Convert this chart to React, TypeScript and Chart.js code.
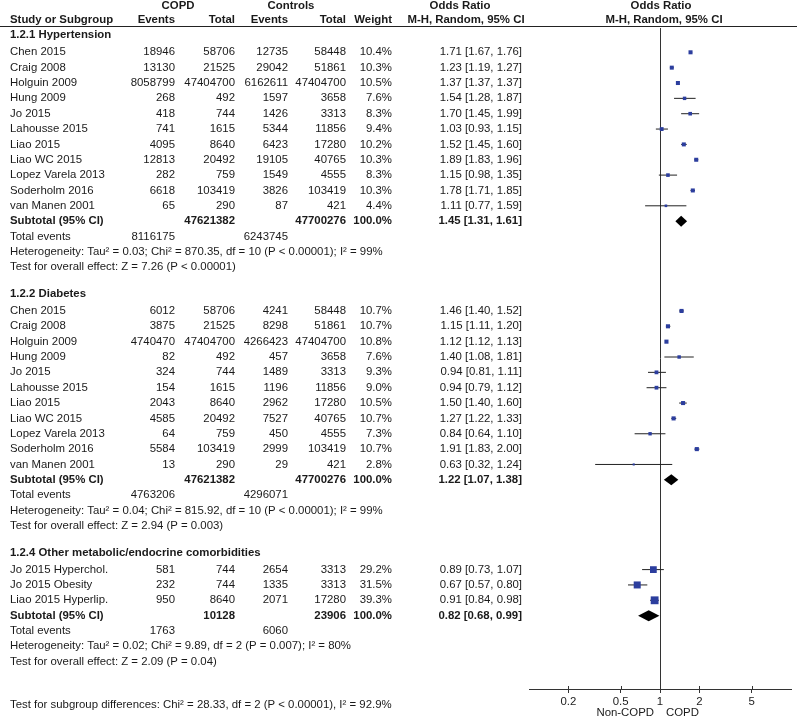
import { useEffect, useRef } from 'react';
import { Chart, registerables } from 'chart.js';

Chart.register(...registerables);

const FONT = "'Liberation Sans', Arial, Helvetica, sans-serif";
const FONT_SIZE = 11.4;

// ---------- Data ----------
const HT_TITLE = '1.2.1 Hypertension';
const HT_NAMES = ['Chen 2015', 'Craig 2008', 'Holguin 2009', 'Hung 2009', 'Jo 2015', 'Lahousse 2015', 'Liao 2015', 'Liao WC 2015', 'Lopez Varela 2013', 'Soderholm 2016', 'van Manen 2001'];
const HT_COPD_EV = [18946, 13130, 8058799, 268, 418, 741, 4095, 12813, 282, 6618, 65];
const HT_COPD_TOT = [58706, 21525, 47404700, 492, 744, 1615, 8640, 20492, 759, 103419, 290];
const HT_CTRL_EV = [12735, 29042, 6162611, 1597, 1426, 5344, 6423, 19105, 1549, 3826, 87];
const HT_CTRL_TOT = [58448, 51861, 47404700, 3658, 3313, 11856, 17280, 40765, 4555, 103419, 421];
const HT_WEIGHT = [10.4, 10.3, 10.5, 7.6, 8.3, 9.4, 10.2, 10.3, 8.3, 10.3, 4.4];
const HT_OR = [1.71, 1.23, 1.37, 1.54, 1.70, 1.03, 1.52, 1.89, 1.15, 1.78, 1.11];
const HT_LO = [1.67, 1.19, 1.37, 1.28, 1.45, 0.93, 1.45, 1.83, 0.98, 1.71, 0.77];
const HT_HI = [1.76, 1.27, 1.37, 1.87, 1.99, 1.15, 1.60, 1.96, 1.35, 1.85, 1.59];
const HT_SUB = { copdTot: 47621382, ctrlTot: 47700276, or: 1.45, lo: 1.31, hi: 1.61, copdEv: 8116175, ctrlEv: 6243745 };
const HT_HET = 'Heterogeneity: Tau² = 0.03; Chi² = 870.35, df = 10 (P < 0.00001); I² = 99%';
const HT_TEST = 'Test for overall effect: Z = 7.26 (P < 0.00001)';

const DM_TITLE = '1.2.2 Diabetes';
const DM_NAMES = ['Chen 2015', 'Craig 2008', 'Holguin 2009', 'Hung 2009', 'Jo 2015', 'Lahousse 2015', 'Liao 2015', 'Liao WC 2015', 'Lopez Varela 2013', 'Soderholm 2016', 'van Manen 2001'];
const DM_COPD_EV = [6012, 3875, 4740470, 82, 324, 154, 2043, 4585, 64, 5584, 13];
const DM_COPD_TOT = [58706, 21525, 47404700, 492, 744, 1615, 8640, 20492, 759, 103419, 290];
const DM_CTRL_EV = [4241, 8298, 4266423, 457, 1489, 1196, 2962, 7527, 450, 2999, 29];
const DM_CTRL_TOT = [58448, 51861, 47404700, 3658, 3313, 11856, 17280, 40765, 4555, 103419, 421];
const DM_WEIGHT = [10.7, 10.7, 10.8, 7.6, 9.3, 9.0, 10.5, 10.7, 7.3, 10.7, 2.8];
const DM_OR = [1.46, 1.15, 1.12, 1.40, 0.94, 0.94, 1.50, 1.27, 0.84, 1.91, 0.63];
const DM_LO = [1.40, 1.11, 1.12, 1.08, 0.81, 0.79, 1.40, 1.22, 0.64, 1.83, 0.32];
const DM_HI = [1.52, 1.20, 1.13, 1.81, 1.11, 1.12, 1.60, 1.33, 1.10, 2.00, 1.24];
const DM_SUB = { copdTot: 47621382, ctrlTot: 47700276, or: 1.22, lo: 1.07, hi: 1.38, copdEv: 4763206, ctrlEv: 4296071 };
const DM_HET = 'Heterogeneity: Tau² = 0.04; Chi² = 815.92, df = 10 (P < 0.00001); I² = 99%';
const DM_TEST = 'Test for overall effect: Z = 2.94 (P = 0.003)';

const OT_TITLE = '1.2.4 Other metabolic/endocrine comorbidities';
const OT_NAMES = ['Jo 2015 Hyperchol.', 'Jo 2015 Obesity', 'Liao 2015 Hyperlip.'];
const OT_COPD_EV = [581, 232, 950];
const OT_COPD_TOT = [744, 744, 8640];
const OT_CTRL_EV = [2654, 1335, 2071];
const OT_CTRL_TOT = [3313, 3313, 17280];
const OT_WEIGHT = [29.2, 31.5, 39.3];
const OT_OR = [0.89, 0.67, 0.91];
const OT_LO = [0.73, 0.57, 0.84];
const OT_HI = [1.07, 0.80, 0.98];
const OT_SUB = { copdTot: 10128, ctrlTot: 23906, or: 0.82, lo: 0.68, hi: 0.99, copdEv: 1763, ctrlEv: 6060 };
const OT_HET = 'Heterogeneity: Tau² = 0.02; Chi² = 9.89, df = 2 (P = 0.007); I² = 80%';
const OT_TEST = 'Test for overall effect: Z = 2.09 (P = 0.04)';

const SUBGROUP_DIFF = 'Test for subgroup differences: Chi² = 28.33, df = 2 (P < 0.00001), I² = 92.9%';
const X_TICKS = [0.2, 0.5, 1, 2, 5];
const X_LEFT_LABEL = 'Non-COPD';
const X_RIGHT_LABEL = 'COPD';

// ---------- Layout ----------
const ROW0_PX = 52;
const ROW_PX = 15.35;
const TOP_PX = 28;
const AXIS_PX = 689;
const CANVAS_W = 800;
const CANVAS_H = 727;

const groupsRaw = [
  { title: HT_TITLE, names: HT_NAMES, ce: HT_COPD_EV, ct: HT_COPD_TOT, ke: HT_CTRL_EV, kt: HT_CTRL_TOT, w: HT_WEIGHT, or: HT_OR, lo: HT_LO, hi: HT_HI, sub: HT_SUB, het: HT_HET, test: HT_TEST },
  { title: DM_TITLE, names: DM_NAMES, ce: DM_COPD_EV, ct: DM_COPD_TOT, ke: DM_CTRL_EV, kt: DM_CTRL_TOT, w: DM_WEIGHT, or: DM_OR, lo: DM_LO, hi: DM_HI, sub: DM_SUB, het: DM_HET, test: DM_TEST },
  { title: OT_TITLE, names: OT_NAMES, ce: OT_COPD_EV, ct: OT_COPD_TOT, ke: OT_CTRL_EV, kt: OT_CTRL_TOT, w: OT_WEIGHT, or: OT_OR, lo: OT_LO, hi: OT_HI, sub: OT_SUB, het: OT_HET, test: OT_TEST },
];

// assign row positions
const groups = (() => {
  let h = -1.1;
  return groupsRaw.map((g) => {
    const studyRows = g.names.map((_, i) => h + 1.12 + i);
    const subRow = h + 1.12 + g.names.length;
    const res = { ...g, headRow: h, studyRows, subRow, totRow: subRow + 1, hetRow: subRow + 2, testRow: subRow + 3 };
    h = subRow + 3 + 1.73;
    return res;
  });
})();

const HEAD1_ROW = -3.0;
const HEAD2_ROW = -2.08;
const HEAD_LINE_ROW = -1.69;
const DIFF_ROW = 42.54;
const XLABEL_ROW = 43.06;

const COL = { name: 10, ce: 175, ct: 235, ke: 288, kt: 346, w: 392, or: 522 };

const fmtCI = (o: number, l: number, h: number) => `${o.toFixed(2)} [${l.toFixed(2)}, ${h.toFixed(2)}]`;

function txt(ctx: CanvasRenderingContext2D, s: string, x: number, y: number, align: CanvasTextAlign, bold = false) {
  ctx.font = `${bold ? 'bold ' : ''}${FONT_SIZE}px ${FONT}`;
  ctx.textAlign = align;
  ctx.textBaseline = 'middle';
  ctx.fillStyle = '#1a1a1a';
  ctx.fillText(s, x, y);
}

const tablePlugin = {
  id: 'forestTable',
  beforeDatasetsDraw(chart: any) {
    const { ctx, scales, chartArea } = chart;
    const xs = scales.x;
    ctx.save();
    const x1 = Math.round(xs.getPixelForValue(1)) + 0.5;
    ctx.strokeStyle = '#333';
    ctx.lineWidth = 1;
    ctx.beginPath();
    ctx.moveTo(x1, chartArea.top);
    ctx.lineTo(x1, chartArea.bottom);
    ctx.stroke();
    X_TICKS.forEach((v) => {
      const px = Math.round(xs.getPixelForValue(v)) + 0.5;
      ctx.beginPath();
      ctx.moveTo(px, chartArea.bottom - 3);
      ctx.lineTo(px, chartArea.bottom);
      ctx.stroke();
    });
    ctx.restore();
  },
  afterDatasetsDraw(chart: any) {
    const { ctx, scales } = chart;
    const xs = scales.x;
    const ys = scales.y;
    const Y = (r: number) => ys.getPixelForValue(r);
    ctx.save();

    txt(ctx, 'COPD', 178, Y(HEAD1_ROW), 'center', true);
    txt(ctx, 'Controls', 291, Y(HEAD1_ROW), 'center', true);
    txt(ctx, 'Odds Ratio', 460, Y(HEAD1_ROW), 'center', true);
    txt(ctx, 'Odds Ratio', 661, Y(HEAD1_ROW), 'center', true);
    txt(ctx, 'Study or Subgroup', COL.name, Y(HEAD2_ROW), 'left', true);
    txt(ctx, 'Events', COL.ce, Y(HEAD2_ROW), 'right', true);
    txt(ctx, 'Total', COL.ct, Y(HEAD2_ROW), 'right', true);
    txt(ctx, 'Events', COL.ke, Y(HEAD2_ROW), 'right', true);
    txt(ctx, 'Total', COL.kt, Y(HEAD2_ROW), 'right', true);
    txt(ctx, 'Weight', COL.w, Y(HEAD2_ROW), 'right', true);
    txt(ctx, 'M-H, Random, 95% CI', 466, Y(HEAD2_ROW), 'center', true);
    txt(ctx, 'M-H, Random, 95% CI', 664, Y(HEAD2_ROW), 'center', true);

    const ly = Math.round(Y(HEAD_LINE_ROW)) + 0.5;
    ctx.strokeStyle = '#222';
    ctx.lineWidth = 1.2;
    ctx.beginPath();
    ctx.moveTo(0, ly);
    ctx.lineTo(797, ly);
    ctx.stroke();

    groups.forEach((g) => {
      txt(ctx, g.title, COL.name, Y(g.headRow), 'left', true);
      g.names.forEach((n, i) => {
        const y = Y(g.studyRows[i]);
        txt(ctx, n, COL.name, y, 'left');
        txt(ctx, String(g.ce[i]), COL.ce, y, 'right');
        txt(ctx, String(g.ct[i]), COL.ct, y, 'right');
        txt(ctx, String(g.ke[i]), COL.ke, y, 'right');
        txt(ctx, String(g.kt[i]), COL.kt, y, 'right');
        txt(ctx, `${g.w[i].toFixed(1)}%`, COL.w, y, 'right');
        txt(ctx, fmtCI(g.or[i], g.lo[i], g.hi[i]), COL.or, y, 'right');
      });
      const sy = Y(g.subRow);
      txt(ctx, 'Subtotal (95% CI)', COL.name, sy, 'left', true);
      txt(ctx, String(g.sub.copdTot), COL.ct, sy, 'right', true);
      txt(ctx, String(g.sub.ctrlTot), COL.kt, sy, 'right', true);
      txt(ctx, '100.0%', COL.w, sy, 'right', true);
      txt(ctx, fmtCI(g.sub.or, g.sub.lo, g.sub.hi), COL.or, sy, 'right', true);
      const ty = Y(g.totRow);
      txt(ctx, 'Total events', COL.name, ty, 'left');
      txt(ctx, String(g.sub.copdEv), COL.ce, ty, 'right');
      txt(ctx, String(g.sub.ctrlEv), COL.ke, ty, 'right');
      txt(ctx, g.het, COL.name, Y(g.hetRow), 'left');
      txt(ctx, g.test, COL.name, Y(g.testRow), 'left');

      const xl = xs.getPixelForValue(g.sub.lo);
      const xm = xs.getPixelForValue(g.sub.or);
      const xr = xs.getPixelForValue(g.sub.hi);
      ctx.fillStyle = '#000';
      ctx.beginPath();
      ctx.moveTo(xl, sy);
      ctx.lineTo(xm, sy - 5.5);
      ctx.lineTo(xr, sy);
      ctx.lineTo(xm, sy + 5.5);
      ctx.closePath();
      ctx.fill();
    });

    txt(ctx, SUBGROUP_DIFF, COL.name, Y(DIFF_ROW), 'left');
    const x1 = xs.getPixelForValue(1);
    txt(ctx, X_LEFT_LABEL, x1 - 6, Y(XLABEL_ROW), 'right');
    txt(ctx, X_RIGHT_LABEL, x1 + 6, Y(XLABEL_ROW), 'left');
    ctx.restore();
  },
};

export default function App() {
  const ref = useRef<HTMLCanvasElement>(null);

  useEffect(() => {
    if (!ref.current) return;
    const yMin = (TOP_PX - ROW0_PX) / ROW_PX;
    const yMax = (AXIS_PX - ROW0_PX) / ROW_PX;

    const ciDatasets: any[] = [];
    const squares: any[] = [];
    const radii: number[] = [];
    groups.forEach((g) => {
      g.names.forEach((_, i) => {
        ciDatasets.push({
          type: 'line',
          data: [{ x: g.lo[i], y: g.studyRows[i] }, { x: g.hi[i], y: g.studyRows[i] }],
          borderColor: '#222',
          borderWidth: 1,
          pointRadius: 0,
          fill: false,
          order: 2,
        });
        squares.push({ x: g.or[i], y: g.studyRows[i] });
        radii.push((1.25 * Math.sqrt(g.w[i])) / Math.SQRT2);
      });
    });

    const chart = new Chart(ref.current, {
      type: 'scatter',
      data: {
        datasets: [
          ...ciDatasets,
          {
            type: 'scatter',
            data: squares,
            pointStyle: 'rect',
            pointRadius: (c: any) => radii[c.dataIndex] ?? 2,
            backgroundColor: '#2c3e9e',
            borderColor: '#2c3e9e',
            borderWidth: 0,
            order: 1,
          },
        ],
      },
      options: {
        responsive: false,
        animation: false,
        devicePixelRatio: 1,
        layout: { padding: { left: 529, right: 9, top: TOP_PX, bottom: 0 } },
        plugins: { legend: { display: false }, tooltip: { enabled: false } },
        scales: {
          x: {
            type: 'logarithmic',
            min: 0.1,
            max: 10,
            position: 'bottom',
            afterBuildTicks: (s: any) => {
              s.ticks = X_TICKS.map((v) => ({ value: v }));
            },
            afterFit: (s: any) => {
              s.height = CANVAS_H - AXIS_PX;
            },
            ticks: {
              callback: (v: any) => String(v),
              font: { family: FONT, size: FONT_SIZE },
              color: '#222',
              padding: 2,
              maxRotation: 0,
              autoSkip: false,
            },
            grid: { drawOnChartArea: false, drawTicks: true, tickLength: 4, color: '#333' },
            border: { display: true, color: '#333' },
          },
          y: {
            type: 'linear',
            reverse: true,
            min: yMin,
            max: yMax,
            display: false,
          },
        },
      } as any,
      plugins: [tablePlugin],
    });
    return () => chart.destroy();
  }, []);

  return (
    <div style={{ position: 'absolute', left: 0, top: 0, width: CANVAS_W, height: CANVAS_H, background: '#fff' }}>
      <canvas ref={ref} width={CANVAS_W} height={CANVAS_H} style={{ display: 'block' }} />
    </div>
  );
}
